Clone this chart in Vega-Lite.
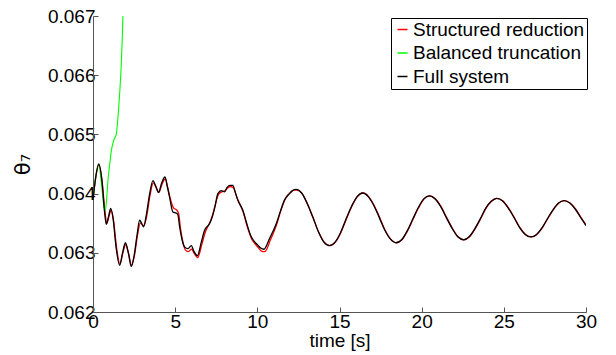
{
  "$schema": "https://vega.github.io/schema/vega-lite/v6.json",
  "width": 493,
  "height": 296,
  "autosize": {"type": "none"},
  "padding": {"left": 93, "top": 16, "right": 30, "bottom": 43},
  "background": "white",
  "config": {
    "view": {"stroke": null},
    "font": "Liberation Sans",
    "axis": {
      "grid": false,
      "domainColor": "#555555",
      "tickColor": "#555555",
      "labelColor": "#000000",
      "titleColor": "#000000",
      "labelFontSize": 19,
      "titleFontSize": 19,
      "titleFontWeight": "normal",
      "tickSize": -5,
      "labelFlush": false,
      "labelOverlap": false
    }
  },
  "datasets": {
    "full": [
      {"t":0.00,"v":0.06389},{"t":0.15,"v":0.06425},{"t":0.35,"v":0.06450},{"t":0.55,"v":0.06420},{"t":0.70,"v":0.06370},{"t":0.81,"v":0.06348},{"t":0.95,"v":0.06362},{"t":1.08,"v":0.06375},{"t":1.22,"v":0.06358},{"t":1.40,"v":0.06310},{"t":1.62,"v":0.06279},{"t":1.80,"v":0.06300},{"t":1.97,"v":0.06317},{"t":2.15,"v":0.06300},{"t":2.33,"v":0.06277},{"t":2.50,"v":0.06295},{"t":2.68,"v":0.06330},{"t":2.84,"v":0.06355},{"t":3.08,"v":0.06344},{"t":3.25,"v":0.06365},{"t":3.45,"v":0.06400},{"t":3.65,"v":0.06422},{"t":3.82,"v":0.06412},{"t":3.99,"v":0.06402},{"t":4.18,"v":0.06418},{"t":4.38,"v":0.06428},{"t":4.52,"v":0.06412},{"t":4.66,"v":0.06394},{"t":4.86,"v":0.06369},{"t":5.07,"v":0.06367},{"t":5.17,"v":0.06364},{"t":5.27,"v":0.06344},{"t":5.42,"v":0.06322},{"t":5.57,"v":0.06310},{"t":5.78,"v":0.06307},{"t":5.98,"v":0.06312},{"t":6.15,"v":0.06302},{"t":6.35,"v":0.06295},{"t":6.59,"v":0.06318},{"t":6.79,"v":0.06338},{"t":7.09,"v":0.06349},{"t":7.25,"v":0.06360},{"t":7.40,"v":0.06375},{"t":7.60,"v":0.06400},{"t":7.81,"v":0.06405},{"t":8.01,"v":0.06403},{"t":8.15,"v":0.06410},{"t":8.31,"v":0.06414},{"t":8.51,"v":0.06414},{"t":8.66,"v":0.06402},{"t":8.81,"v":0.06389},{"t":9.12,"v":0.06372},{"t":9.35,"v":0.06350},{"t":9.63,"v":0.06327},{"t":9.85,"v":0.06318},{"t":10.03,"v":0.06313},{"t":10.20,"v":0.06308},{"t":10.40,"v":0.06306},{"t":10.74,"v":0.06324},{"t":11.15,"v":0.06349},{"t":11.40,"v":0.06370},{"t":11.65,"v":0.06389},{"t":11.96,"v":0.06400},{"t":12.15,"v":0.06405},{"t":12.36,"v":0.06407},
      {"t":12.70,"v":0.06401},{"t":13.04,"v":0.06383},{"t":13.38,"v":0.06360},{"t":13.71,"v":0.06336},{"t":14.05,"v":0.06318},{"t":14.39,"v":0.06312},{"t":14.73,"v":0.06318},{"t":15.06,"v":0.06334},{"t":15.40,"v":0.06357},{"t":15.74,"v":0.06379},{"t":16.07,"v":0.06395},{"t":16.41,"v":0.06401},{"t":16.75,"v":0.06395},{"t":17.09,"v":0.06380},{"t":17.43,"v":0.06359},{"t":17.76,"v":0.06338},{"t":18.10,"v":0.06323},{"t":18.44,"v":0.06317},{"t":18.78,"v":0.06322},{"t":19.12,"v":0.06337},{"t":19.46,"v":0.06357},{"t":19.79,"v":0.06376},{"t":20.13,"v":0.06391},{"t":20.47,"v":0.06396},{"t":20.82,"v":0.06391},{"t":21.16,"v":0.06378},{"t":21.51,"v":0.06359},{"t":21.86,"v":0.06341},{"t":22.20,"v":0.06327},{"t":22.55,"v":0.06322},{"t":22.89,"v":0.06327},{"t":23.22,"v":0.06340},{"t":23.56,"v":0.06357},{"t":23.89,"v":0.06375},{"t":24.23,"v":0.06387},{"t":24.56,"v":0.06392},{"t":24.91,"v":0.06388},{"t":25.26,"v":0.06376},{"t":25.61,"v":0.06360},{"t":25.95,"v":0.06343},{"t":26.30,"v":0.06331},{"t":26.65,"v":0.06327},{"t":26.99,"v":0.06331},{"t":27.32,"v":0.06342},{"t":27.66,"v":0.06358},{"t":28.00,"v":0.06373},{"t":28.33,"v":0.06384},{"t":28.67,"v":0.06388},{"t":29.01,"v":0.06384},{"t":29.34,"v":0.06374},{"t":29.67,"v":0.06360},{"t":30.00,"v":0.06346}
    ],
    "structured": [
      {"t":0.00,"v":0.06389},{"t":0.15,"v":0.06424},{"t":0.35,"v":0.06448},{"t":0.55,"v":0.06422},{"t":0.72,"v":0.06372},{"t":0.84,"v":0.06350},{"t":0.98,"v":0.06362},{"t":1.10,"v":0.06372},{"t":1.25,"v":0.06355},{"t":1.43,"v":0.06310},{"t":1.64,"v":0.06281},{"t":1.82,"v":0.06300},{"t":1.99,"v":0.06314},{"t":2.17,"v":0.06298},{"t":2.35,"v":0.06279},{"t":2.52,"v":0.06295},{"t":2.70,"v":0.06328},{"t":2.88,"v":0.06350},{"t":3.10,"v":0.06346},{"t":3.27,"v":0.06362},{"t":3.47,"v":0.06397},{"t":3.67,"v":0.06418},{"t":3.84,"v":0.06411},{"t":4.01,"v":0.06402},{"t":4.20,"v":0.06416},{"t":4.40,"v":0.06425},{"t":4.55,"v":0.06410},{"t":4.70,"v":0.06392},{"t":4.90,"v":0.06376},{"t":5.10,"v":0.06372},{"t":5.22,"v":0.06365},{"t":5.32,"v":0.06342},{"t":5.47,"v":0.06318},{"t":5.62,"v":0.06305},{"t":5.80,"v":0.06302},{"t":6.00,"v":0.06306},{"t":6.18,"v":0.06298},{"t":6.37,"v":0.06292},{"t":6.62,"v":0.06314},{"t":6.82,"v":0.06334},{"t":7.12,"v":0.06352},{"t":7.28,"v":0.06364},{"t":7.43,"v":0.06380},{"t":7.63,"v":0.06398},{"t":7.84,"v":0.06403},{"t":8.04,"v":0.06405},{"t":8.18,"v":0.06409},{"t":8.34,"v":0.06412},{"t":8.54,"v":0.06410},{"t":8.70,"v":0.06398},{"t":8.86,"v":0.06387},{"t":9.17,"v":0.06366},{"t":9.40,"v":0.06343},{"t":9.68,"v":0.06322},{"t":9.90,"v":0.06314},{"t":10.08,"v":0.06308},{"t":10.25,"v":0.06303},{"t":10.45,"v":0.06302},{"t":10.80,"v":0.06322},{"t":11.20,"v":0.06350},{"t":11.45,"v":0.06373},{"t":11.70,"v":0.06391},{"t":12.00,"v":0.06402},{"t":12.20,"v":0.06406},{"t":12.40,"v":0.06406},
      {"t":12.72,"v":0.06400},{"t":13.06,"v":0.06382},{"t":13.40,"v":0.06359},{"t":13.73,"v":0.06335},{"t":14.07,"v":0.06318},{"t":14.41,"v":0.06312},{"t":14.75,"v":0.06318},{"t":15.08,"v":0.06334},{"t":15.42,"v":0.06357},{"t":15.76,"v":0.06379},{"t":16.09,"v":0.06395},{"t":16.43,"v":0.06401},{"t":16.77,"v":0.06395},{"t":17.11,"v":0.06380},{"t":17.45,"v":0.06359},{"t":17.78,"v":0.06338},{"t":18.12,"v":0.06323},{"t":18.46,"v":0.06317},{"t":18.80,"v":0.06322},{"t":19.14,"v":0.06337},{"t":19.48,"v":0.06357},{"t":19.81,"v":0.06376},{"t":20.15,"v":0.06391},{"t":20.49,"v":0.06396},{"t":20.84,"v":0.06391},{"t":21.18,"v":0.06378},{"t":21.53,"v":0.06359},{"t":21.88,"v":0.06341},{"t":22.22,"v":0.06327},{"t":22.57,"v":0.06322},{"t":22.91,"v":0.06327},{"t":23.24,"v":0.06340},{"t":23.58,"v":0.06357},{"t":23.91,"v":0.06375},{"t":24.25,"v":0.06387},{"t":24.58,"v":0.06392},{"t":24.93,"v":0.06388},{"t":25.28,"v":0.06376},{"t":25.63,"v":0.06360},{"t":25.97,"v":0.06343},{"t":26.32,"v":0.06331},{"t":26.67,"v":0.06327},{"t":27.01,"v":0.06331},{"t":27.34,"v":0.06342},{"t":27.68,"v":0.06358},{"t":28.02,"v":0.06373},{"t":28.35,"v":0.06384},{"t":28.69,"v":0.06388},{"t":29.03,"v":0.06384},{"t":29.36,"v":0.06374},{"t":29.69,"v":0.06360},{"t":30.00,"v":0.06347}
    ],
    "balanced": [
      {"t":0.00,"v":0.06389},{"t":0.15,"v":0.06425},{"t":0.35,"v":0.06450},{"t":0.52,"v":0.06415},{"t":0.66,"v":0.06380},{"t":0.75,"v":0.06371},{"t":0.84,"v":0.06395},{"t":0.91,"v":0.06422},{"t":1.02,"v":0.06450},{"t":1.12,"v":0.06473},{"t":1.26,"v":0.06490},{"t":1.42,"v":0.06501},{"t":1.52,"v":0.06529},{"t":1.62,"v":0.06568},{"t":1.73,"v":0.06624},{"t":1.79,"v":0.06669},{"t":1.82,"v":0.06700}
    ]
  },
  "encoding": {
    "x": {"field": "t", "type": "quantitative", "scale": {"domain": [0, 30], "nice": false},
          "axis": {"values": [0, 5, 10, 15, 20, 25, 30], "title": "time [s]", "labelPadding": 5, "titlePadding": 0}},
    "y": {"field": "v", "type": "quantitative", "scale": {"domain": [0.062, 0.067], "nice": false, "zero": false},
          "axis": {"values": [0.062, 0.063, 0.064, 0.065, 0.066, 0.067], "format": ".3f", "title": "θ₇", "titleFont": "DejaVu Sans", "titleFontSize": 21, "labelPadding": 3, "titlePadding": 14}}
  },
  "layer": [
    {
      "data": {"name": "structured"},
      "mark": {"type": "line", "strokeWidth": 1.3, "clip": true, "interpolate": "monotone"},
      "encoding": {"color": {"datum": "Structured reduction", "type": "nominal",
        "scale": {"domain": ["Structured reduction", "Balanced truncation", "Full system"], "range": ["#ff0000", "#00ff00", "#000000"]},
        "legend": {"title": null, "orient": "none", "legendX": 298, "legendY": 2, "symbolType": "stroke", "symbolSize": 100, "symbolStrokeWidth": 1.5,
          "labelFontSize": 19, "labelColor": "#000000", "labelOffset": 1, "rowPadding": 3.5, "padding": 2, "strokeColor": "#000000", "fillColor": "#ffffff", "labelLimit": 400}}}
    },
    {
      "data": {"name": "balanced"},
      "mark": {"type": "line", "strokeWidth": 1.1, "clip": true, "interpolate": "monotone"},
      "encoding": {"color": {"datum": "Balanced truncation", "type": "nominal"}}
    },
    {
      "data": {"name": "full"},
      "mark": {"type": "line", "strokeWidth": 1.3, "clip": true, "interpolate": "monotone"},
      "encoding": {"color": {"datum": "Full system", "type": "nominal"}}
    }
  ]
}
